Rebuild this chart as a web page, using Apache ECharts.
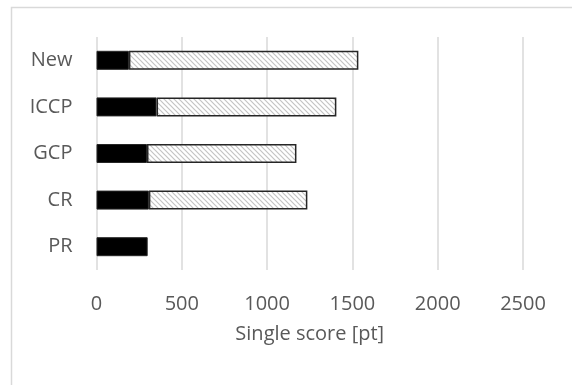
<!DOCTYPE html>
<html>
<head>
<meta charset="utf-8">
<script src="https://cdn.jsdelivr.net/npm/echarts@6/dist/echarts.min.js"></script>
<style>
  html, body { margin: 0; padding: 0; background: #fff; }
  #chart { width: 572px; height: 385px; }
</style>
</head>
<body>
<div id="chart"></div>
<script>
// Single score per method, split into two stacked parts
const categories = ['PR', 'CR', 'GCP', 'ICCP', 'New'];
const solidPart = [300, 307, 296, 352, 190];
const hatchedPart = [0, 929, 876, 1054, 1345];
const xTicks = [0, 500, 1000, 1500, 2000, 2500];

// Diagonal hatch tile for the second segment
function hatchTile() {
  const c = document.createElement('canvas');
  const s = 5;
  c.width = s; c.height = s;
  const g = c.getContext('2d');
  g.fillStyle = '#ffffff';
  g.fillRect(0, 0, s, s);
  g.strokeStyle = '#c4c4c4';
  g.lineWidth = 1.2;
  g.beginPath();
  g.moveTo(-1, -1); g.lineTo(s + 1, s + 1);
  g.moveTo(-1, s - 1); g.lineTo(1, s + 1);
  g.moveTo(s - 1, -1); g.lineTo(s + 1, 1);
  g.stroke();
  return c;
}

const chart = echarts.init(document.getElementById('chart'));
const font = '"Open Sans", "Liberation Sans", sans-serif';

chart.setOption({
  animation: false,
  backgroundColor: '#ffffff',
  graphic: [{
    type: 'rect',
    shape: { x: 11.5, y: 7.5, width: 700, height: 500 },
    style: { fill: 'none', stroke: '#d9d9d9', lineWidth: 1.5 },
    silent: true
  }],
  grid: { left: 96.5, right: 49, top: 37, bottom: 115 },
  xAxis: {
    type: 'value',
    min: xTicks[0],
    max: xTicks[xTicks.length - 1],
    interval: xTicks[1] - xTicks[0],
    axisLine: { show: false },
    axisTick: { show: false },
    splitLine: { lineStyle: { color: '#d9d9d9', width: 1.5 } },
    axisLabel: {
      color: '#595959', fontSize: 20, fontFamily: font, margin: 24,
      formatter: v => String(v)
    },
    name: 'Single score [pt]',
    nameLocation: 'middle',
    nameGap: 54,
    nameTextStyle: { color: '#595959', fontSize: 20, fontFamily: font }
  },
  yAxis: {
    type: 'category',
    data: categories,
    axisLine: { show: false },
    axisTick: { show: false },
    axisLabel: { color: '#595959', fontSize: 20, fontFamily: font, margin: 24 }
  },
  series: [
    {
      type: 'bar',
      stack: 'total',
      data: solidPart,
      barWidth: 19,
      itemStyle: { color: '#000000', borderColor: '#262626', borderWidth: 1 }
    },
    {
      type: 'bar',
      stack: 'total',
      data: hatchedPart.map(v => (v === 0 ? null : v)),
      barWidth: 19,
      itemStyle: {
        color: { image: hatchTile(), repeat: 'repeat' },
        borderColor: '#262626',
        borderWidth: 1.5
      }
    }
  ]
});
</script>
</body>
</html>
